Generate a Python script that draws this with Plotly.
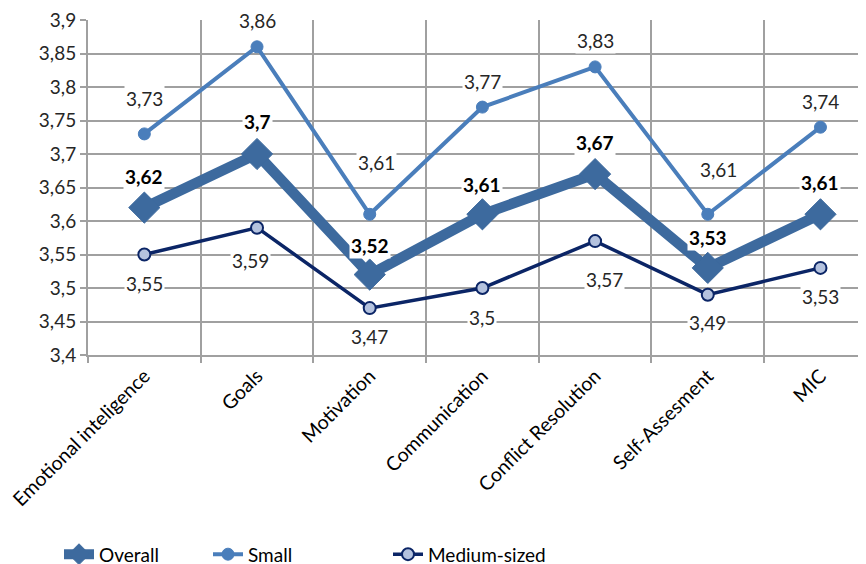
import plotly.graph_objects as go

categories = ["Emotional inteligence", "Goals", "Motivation", "Communication",
              "Conflict Resolution", "Self-Assesment", "MIC"]
overall = [3.62, 3.70, 3.52, 3.61, 3.67, 3.53, 3.61]
small = [3.73, 3.86, 3.61, 3.77, 3.83, 3.61, 3.74]
medium = [3.55, 3.59, 3.47, 3.50, 3.57, 3.49, 3.53]
y_ticks = [3.4, 3.45, 3.5, 3.55, 3.6, 3.65, 3.7, 3.75, 3.8, 3.85, 3.9]

# data-label placement (pixel offsets from each point), as in the original
small_lbl_dy = [35, 26, 52, 26, 26, 45, 26]
small_lbl_dx = [0, 0, 7, 0, 0, 11, 0]
overall_lbl_dy = [31, 33, 29, 30, 32, 30, 32]
medium_lbl_dy = [-29, -33, -28, -29, -38, -28, -29]
medium_lbl_dx = [0, -7, 0, 0, 9, 0, 0]


def fmt(v):
    s = ("%.2f" % v).rstrip("0").rstrip(".")
    return s.replace(".", ",")


FONT = "Lato"
FS = 19
C_OVERALL = "#3D6A9E"
C_SMALL = "#4A7EBB"
C_MED = "#0B2566"
GRID = "#A0A0A0"

fig = go.Figure()
fig.add_trace(go.Scatter(
    x=categories, y=overall, name="Overall", mode="lines+markers",
    line=dict(color=C_OVERALL, width=10.5),
    marker=dict(symbol="diamond", size=24, color=C_OVERALL,
                line=dict(color=C_OVERALL, width=1)),
    legend="legend",
))
fig.add_trace(go.Scatter(
    x=categories, y=small, name="Small", mode="lines+markers",
    line=dict(color=C_SMALL, width=4),
    marker=dict(symbol="circle", size=12, color=C_SMALL,
                line=dict(color=C_SMALL, width=1)),
    legend="legend2",
))
fig.add_trace(go.Scatter(
    x=categories, y=medium, name="Medium-sized", mode="lines+markers",
    line=dict(color=C_MED, width=3.5),
    marker=dict(symbol="circle", size=12, color="#B4C2DE",
                line=dict(color=C_MED, width=2)),
    legend="legend3",
))

annotations = []
for c, v, dy, dx in zip(categories, small, small_lbl_dy, small_lbl_dx):
    annotations.append(dict(x=c, y=v, text=fmt(v), showarrow=False, yshift=dy, xshift=dx,
                            bgcolor="white", font=dict(size=FS, color="#262626", family=FONT)))
for c, v, dy in zip(categories, overall, overall_lbl_dy):
    annotations.append(dict(x=c, y=v, text="<b>" + fmt(v) + "</b>", showarrow=False, yshift=dy,
                            bgcolor="white", font=dict(size=FS, color="#000000", family=FONT)))
for c, v, dy, dx in zip(categories, medium, medium_lbl_dy, medium_lbl_dx):
    annotations.append(dict(x=c, y=v, text=fmt(v), showarrow=False, yshift=dy, xshift=dx,
                            bgcolor="white", font=dict(size=FS, color="#262626", family=FONT)))

L, T, PW, PH = 80, 12, 786, 335


def leg(text_x):
    fx = text_x - 39 - 8
    return dict(orientation="h", x=(fx - L) / PW, y=-0.595, xanchor="left",
                yanchor="middle", font=dict(size=FS, color="#000000", family=FONT),
                bgcolor="rgba(0,0,0,0)")


fig.update_layout(
    width=866, height=564,
    margin=dict(l=L, r=0, t=T, b=564 - T - PH, autoexpand=False),
    paper_bgcolor="white", plot_bgcolor="white",
    font=dict(family=FONT, size=FS, color="#262626"),
    showlegend=True,
    legend=leg(98), legend2=leg(247), legend3=leg(427),
    annotations=annotations,
)
fig.update_xaxes(
    type="category", range=[-0.5, 6.475], tickson="boundaries", automargin=False,
    showgrid=True, gridcolor=GRID, gridwidth=1.5, ticklabeloverflow="allow",
    showline=True, linecolor=GRID, linewidth=2,
    ticks="outside", ticklen=6, tickcolor=GRID, tickwidth=2,
    tickangle=-45, tickfont=dict(size=19.5, color="#000000"),
)
fig.update_yaxes(
    range=[3.4, 3.9], tickvals=y_ticks, ticktext=[fmt(v) for v in y_ticks],
    showgrid=True, gridcolor=GRID, gridwidth=1.5, automargin=False,
    ticklabeloverflow="allow",
    showline=True, linecolor=GRID, linewidth=2,
    ticks="outside", ticklen=6, tickcolor=GRID, tickwidth=2,
    tickfont=dict(size=FS, color="#262626"), zeroline=False,
)

fig.write_html("out.html")
